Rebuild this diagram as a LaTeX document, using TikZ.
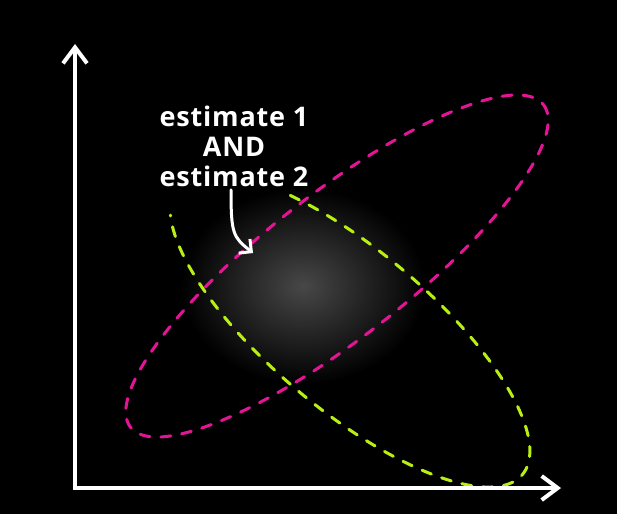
\documentclass[tikz,border=0pt]{standalone}
\usepackage{fontspec}
\newfontfamily\hand[LetterSpace=3]{Open Sans}
\usetikzlibrary{arrows.meta,positioning,calc}
\definecolor{pinkest}{RGB}{228,20,150}
\definecolor{limeest}{RGB}{185,240,20}
\begin{document}
\begin{tikzpicture}[x=1pt,y=-1pt,line cap=round,>={Straight Barb[length=16pt,width=24pt]}]
\tikzstyle{ax}=[white,line width=4pt]
\tikzstyle{est}=[line width=3pt,dash pattern=on 10pt off 11pt]
\fill[black] (0,0) rectangle (617,514);
\useasboundingbox (0,0) rectangle (617,514);
% overlap glow
\shade[inner color=white!28!black,outer color=black] (303,286) ellipse[x radius=122,y radius=98];
% estimate 2 (top left end hidden)
\begin{scope}[shift={(350,330)},rotate=-40]
\draw[est,limeest] (234:225 and 80) arc[start angle=234,end angle=520,x radius=225,y radius=80];
\end{scope}
% estimate 1
\draw[est,pinkest,rotate around={38:(337,266)}] (337,266) ellipse[x radius=262,y radius=72];
\node[white,align=center,font=\hand\bfseries\fontsize{27}{30}\selectfont] (lbl) at (234,146) {estimate 1\\AND\\estimate 2};
\coordinate (tip) at (253,253);
\draw[white,line width=3pt,->,>={Straight Barb[length=9pt,width=18pt]}] ([xshift=-3pt]lbl.south) .. controls +(0,44) and +(-20,-16) .. (tip);
% axes
\coordinate (O) at (75,488);
\coordinate (ytop) at (75,44);
\coordinate (xend) at (561,488);
\draw[ax,<->] (ytop) -- (O) -- (xend);
\end{tikzpicture}
\end{document}
